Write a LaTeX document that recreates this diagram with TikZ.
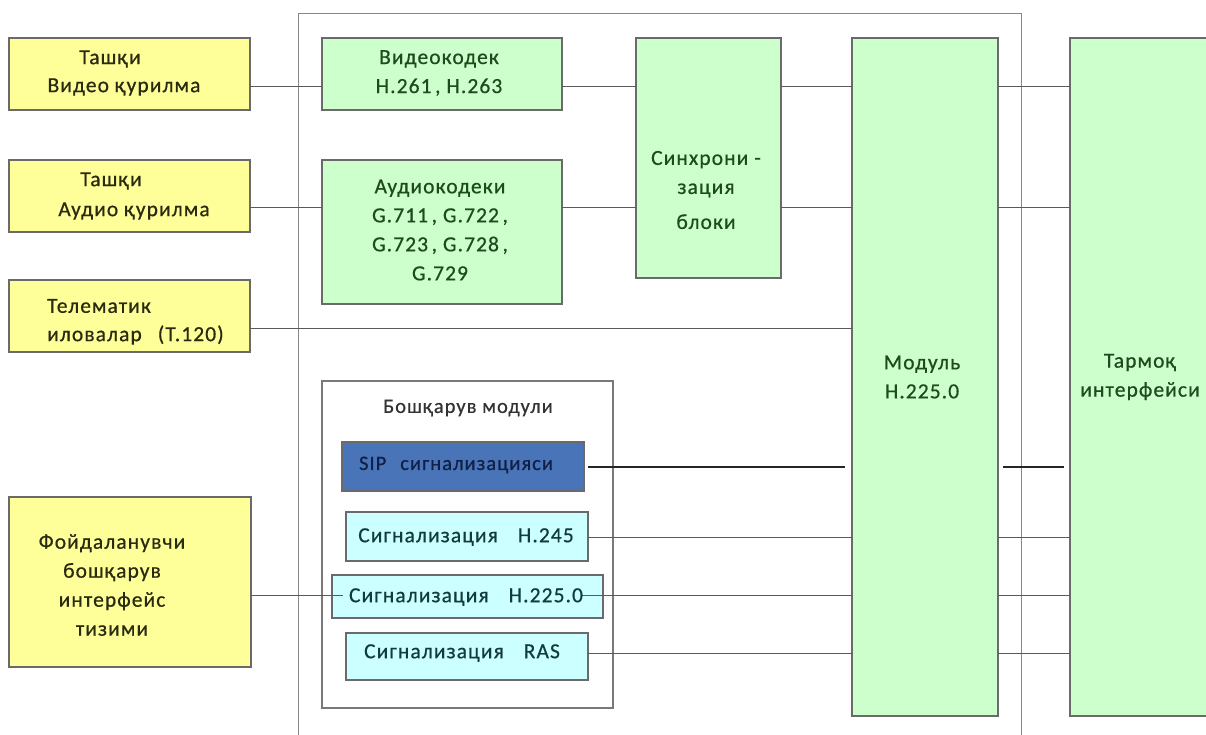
\documentclass[tikz,border=0pt]{standalone}
\usepackage{fontspec}
\setmainfont{Carlito}[LetterSpace=5, FakeBold=0.6]
\usetikzlibrary{calc}
\definecolor{yel}{HTML}{FFFF99}
\definecolor{grn}{HTML}{CCFFCC}
\definecolor{cyn}{HTML}{CCFFFF}
\definecolor{sipb}{HTML}{4A74B8}
\definecolor{edge}{HTML}{6A6A6A}
\definecolor{wire}{HTML}{5A5A5A}
\definecolor{tgrn}{HTML}{1E4A1E}
\definecolor{tyel}{HTML}{2A2A10}
\definecolor{tcyn}{HTML}{123C3C}
\definecolor{tsip}{HTML}{0F2147}
\begin{document}
\begin{tikzpicture}[x=1pt,y=-1pt,
  box/.style={draw=edge, line width=1.1pt, inner sep=0pt, outer sep=0pt},
  frame/.style={draw=edge!80, line width=1pt},
  wire/.style={draw=wire, line width=0.9pt},
  sipwire/.style={draw=black!85, line width=1.3pt},
  txt/.style={font=\fontsize{21.5}{29}\selectfont, align=center, inner sep=0pt},
  stxt/.style={font=\fontsize{20.5}{24}\selectfont, align=center, inner sep=0pt}]
\useasboundingbox (0,0) rectangle (1206,734);
\clip (0,0) rectangle (1206,734);
% outer frame
\draw[frame] (298,745) -- (298,13) -- (1021,13) -- (1021,745);
% boxes
\node[box, fill=yel, minimum width=241pt, minimum height=72pt] (vid) at (129.5,74) {};
\node[box, fill=yel, minimum width=241pt, minimum height=72pt] (aud) at (129.5,196) {};
\node[box, fill=yel, minimum width=241pt, minimum height=72pt] (tel) at (129.5,316) {};
\node[box, fill=yel, minimum width=242pt, minimum height=170pt] (usr) at (130,582) {};
\node[box, fill=grn, minimum width=240pt, minimum height=72pt] (vcod) at (442,74) {};
\node[box, fill=grn, minimum width=240pt, minimum height=144pt] (acod) at (442,232) {};
\node[box, fill=grn, minimum width=145pt, minimum height=240pt] (sync) at (708.5,158) {};
\node[box, fill=grn, minimum width=146pt, minimum height=678pt] (mod) at (925,377) {};
\node[box, fill=grn, minimum width=160pt, minimum height=678pt] (net) at (1150,377) {};
\node[box, draw=edge!90, fill=white, minimum width=291pt, minimum height=327pt] (ctrl) at (467.5,544.5) {};
\node[box, fill=sipb, minimum width=242pt, minimum height=49pt] (sip) at (463,466.5) {};
\node[box, fill=cyn, minimum width=242pt, minimum height=49pt] (h245) at (467,536.5) {};
\node[box, fill=cyn, minimum width=271pt, minimum height=43pt] (h225) at (467.5,596.5) {};
\node[box, fill=cyn, minimum width=242pt, minimum height=47pt] (ras) at (467,656.5) {};
% line levels
\coordinate (yv) at (0,86);
\coordinate (ya) at (0,207);
\coordinate (yt) at (0,328);
\coordinate (ys) at (0,467);
\coordinate (y245) at (0,537);
\coordinate (y225) at (0,595);
\coordinate (yras) at (0,653);
\coordinate (sipA) at (845,467);
\coordinate (sipB) at (1003,467);
\coordinate (sipC) at (1064,467);
% connectors
\draw[wire] (vid.east |- yv) -- (vcod.west |- yv);
\draw[wire] (vcod.east |- yv) -- (sync.west |- yv);
\draw[wire] (sync.east |- yv) -- (mod.west |- yv);
\draw[wire] (mod.east |- yv) -- (net.west |- yv);
\draw[wire] (aud.east |- ya) -- (acod.west |- ya);
\draw[wire] (acod.east |- ya) -- (sync.west |- ya);
\draw[wire] (sync.east |- ya) -- (mod.west |- ya);
\draw[wire] (mod.east |- ya) -- (net.west |- ya);
\draw[wire] (tel.east |- yt) -- (mod.west |- yt);
\draw[sipwire] ([xshift=4pt]sip.east |- ys) -- (sipA);
\draw[sipwire] (sipB) -- (sipC);
\draw[wire] (h245.east |- y245) -- (mod.west |- y245);
\draw[wire] (mod.east |- y245) -- (net.west |- y245);
\draw[wire] (usr.east |- y225) -- ([xshift=11pt]h225.west |- y225);
\draw[wire] ([xshift=-22pt]h225.east |- y225) -- (mod.west |- y225);
\draw[wire] (mod.east |- y225) -- (net.west |- y225);
\draw[wire] (ras.east |- yras) -- (mod.west |- yras);
\draw[wire] (mod.east |- yras) -- (net.west |- yras);
% texts
\node[txt, text=tyel] (vid1) at (110,59) {Ташқи};
\node[txt, text=tyel] (vid2) at (124,87) {Видео қурилма};
\node[txt, text=tyel] (aud1) at (111,181) {Ташқи};
\node[txt, text=tyel] (aud2) at (134,211) {Аудио қурилма};
\node[txt, text=tyel, anchor=west] (tel1) at (47,306) {Телематик};
\node[txt, text=tyel, anchor=west] (tel2) at (47,335) {иловалар\hspace{16pt}(T.120)};
\node[txt, text=tyel] (usrt) at (112,585) {Фойдаланувчи\\бошқарув\\интерфейс\\тизими};
\node[txt, text=tgrn] (vcodt) at (439,73) {Видеокодек\\H.261\,, H.263};
\node[txt, text=tgrn] (acodt) at (440,230) {Аудиокодеки\\G.711\,, G.722\,,\\G.723\,, G.728\,,\\G.729};
\node[txt, text=tgrn] (synct) at (706,190) {Синхрони -\\зация\\[6pt]блоки};
\node[txt, text=tgrn] (modt) at (922,377) {Модуль\\H.225.0};
\node[txt, text=tgrn] (nett) at (1140,377) {Тармоқ\\интерфейси};
\node[stxt, text=black!80] (ctrlt) at (468,408) {Бошқарув модули};
\node[stxt, text=tsip] (sipt) at (456,465) {SIP\hspace{14pt}сигнализацияси};
\node[txt, text=tcyn] (h245t) at (466,537) {Сигнализация\hspace{20pt}H.245};
\node[txt, text=tcyn] (h225t) at (466,597) {Сигнализация\hspace{20pt}H.225.0};
\node[txt, text=tcyn] (rast) at (462,653) {Сигнализация\hspace{20pt}RAS};
\end{tikzpicture}
\end{document}
